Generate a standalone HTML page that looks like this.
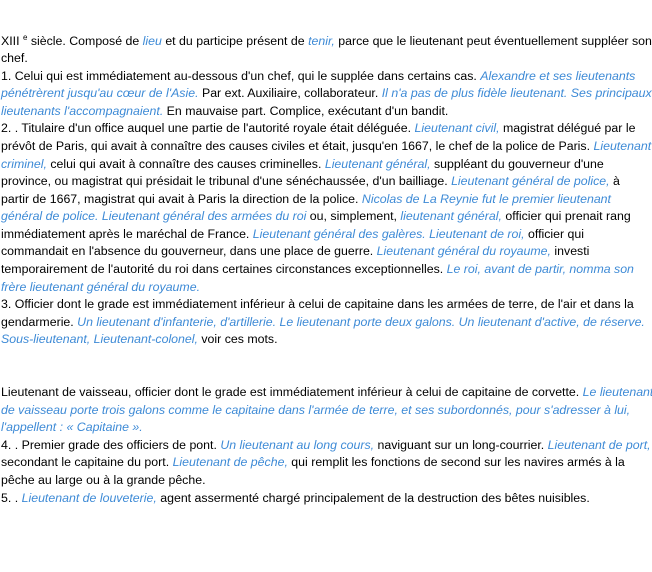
<!DOCTYPE html>
<html><head><meta charset="utf-8"><style>
html,body{margin:0;padding:0;background:#fff;width:652px;height:572px;overflow:hidden}
#t{position:absolute;left:1px;top:32.5px;font-family:"Liberation Sans",Arial,sans-serif;font-size:12.35px;line-height:17.58px;color:#000;white-space:nowrap}
i{color:#3d8ad6}
sup{font-size:8px;line-height:0;vertical-align:5px}
</style></head><body><div id="t">
XIII <sup>e</sup> siècle. Composé de <i>lieu</i> et du participe présent de <i>tenir,</i> parce que le lieutenant peut éventuellement suppléer son<br>
chef.<br>
1. Celui qui est immédiatement au-dessous d'un chef, qui le supplée dans certains cas. <i>Alexandre et ses lieutenants</i><br>
<i>pénétrèrent jusqu'au cœur de l'Asie.</i> Par ext. Auxiliaire, collaborateur. <i>Il n'a pas de plus fidèle lieutenant. Ses principaux</i><br>
<i>lieutenants l'accompagnaient.</i> En mauvaise part. Complice, exécutant d'un bandit.<br>
2. . Titulaire d'un office auquel une partie de l'autorité royale était déléguée. <i>Lieutenant civil,</i> magistrat délégué par le<br>
prévôt de Paris, qui avait à connaître des causes civiles et était, jusqu'en 1667, le chef de la police de Paris. <i>Lieutenant</i><br>
<i>criminel,</i> celui qui avait à connaître des causes criminelles. <i>Lieutenant général,</i> suppléant du gouverneur d'une<br>
province, ou magistrat qui présidait le tribunal d'une sénéchaussée, d'un bailliage. <i>Lieutenant général de police,</i> à<br>
partir de 1667, magistrat qui avait à Paris la direction de la police. <i>Nicolas de La Reynie fut le premier lieutenant</i><br>
<i>général de police. Lieutenant général des armées du roi</i> ou, simplement, <i>lieutenant général,</i> officier qui prenait rang<br>
immédiatement après le maréchal de France. <i>Lieutenant général des galères. Lieutenant de roi,</i> officier qui<br>
commandait en l'absence du gouverneur, dans une place de guerre. <i>Lieutenant général du royaume,</i> investi<br>
temporairement de l'autorité du roi dans certaines circonstances exceptionnelles. <i>Le roi, avant de partir, nomma son</i><br>
<i>frère lieutenant général du royaume.</i><br>
3. Officier dont le grade est immédiatement inférieur à celui de capitaine dans les armées de terre, de l'air et dans la<br>
gendarmerie. <i>Un lieutenant d'infanterie, d'artillerie. Le lieutenant porte deux galons. Un lieutenant d'active, de réserve.</i><br>
<i>Sous-lieutenant, Lieutenant-colonel,</i> voir ces mots.<br>
<br>
<br>
Lieutenant de vaisseau, officier dont le grade est immédiatement inférieur à celui de capitaine de corvette. <i>Le lieutenant</i><br>
<i>de vaisseau porte trois galons comme le capitaine dans l'armée de terre, et ses subordonnés, pour s'adresser à lui,</i><br>
<i>l'appellent : « Capitaine ».</i><br>
4. . Premier grade des officiers de pont. <i>Un lieutenant au long cours,</i> naviguant sur un long-courrier. <i>Lieutenant de port,</i><br>
secondant le capitaine du port. <i>Lieutenant de pêche,</i> qui remplit les fonctions de second sur les navires armés à la<br>
pêche au large ou à la grande pêche.<br>
5. . <i>Lieutenant de louveterie,</i> agent assermenté chargé principalement de la destruction des bêtes nuisibles.
</div></body></html>
